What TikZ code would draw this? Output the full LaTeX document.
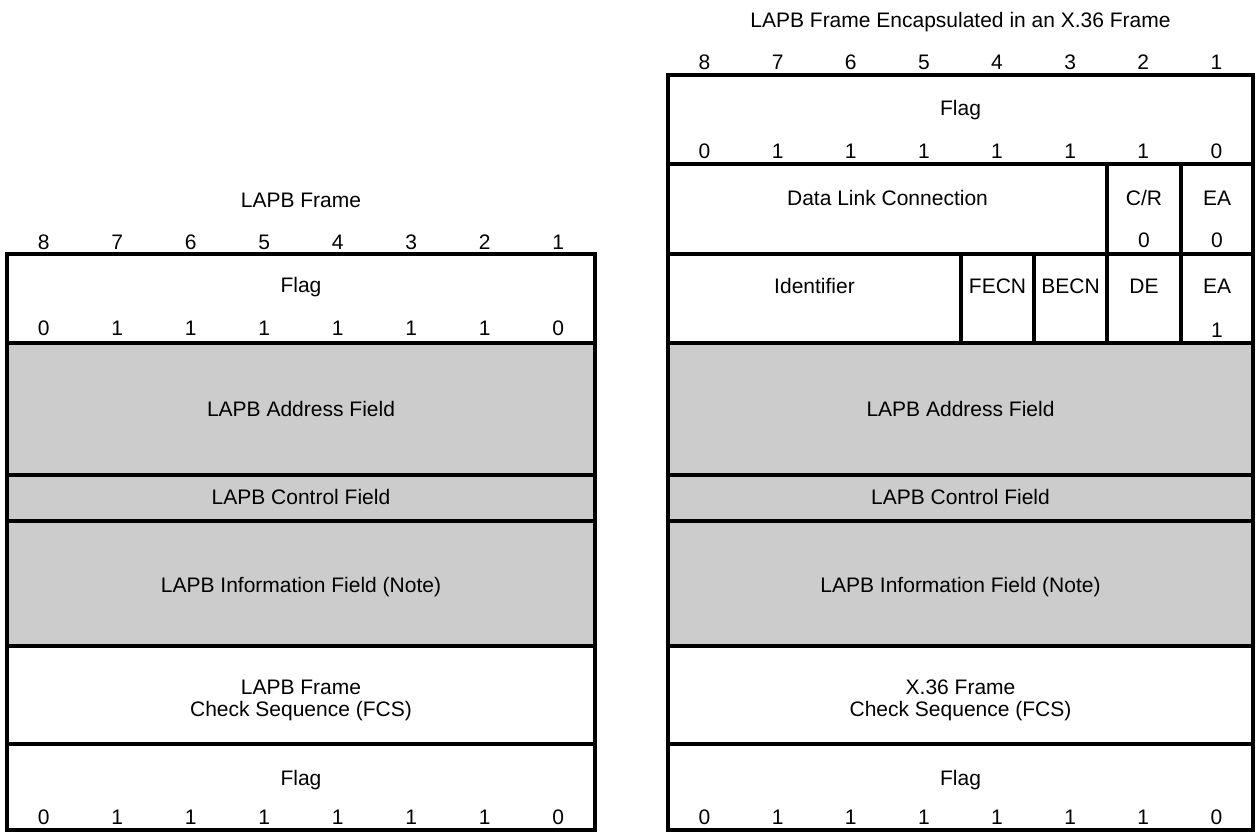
\documentclass[tikz,border=0pt]{standalone}
\usepackage{fontspec}
\setmainfont{Liberation Sans}
\begin{document}
\begin{tikzpicture}[x=0.5pt,y=-0.5pt,
  lbl/.style={font=\fontsize{10.5}{11}\selectfont, anchor=base, inner sep=0pt, align=center},
  frameline/.style={line width=1.9pt},
  shade/.style={fill=gray!40}]
\useasboundingbox (0,0) rectangle (1256,831);
% shaded LAPB fields
\fill[shade] (7,343) rectangle (595,646);
\fill[shade] (668,343) rectangle (1253,646);
% left frame
\draw[frameline] (7,254) rectangle (595,830);
\foreach \y in {343,475,521,646,744} \draw[frameline] (7,\y) -- (595,\y);
% right frame
\draw[frameline] (668,75) rectangle (1253,830);
\foreach \y in {164,254,343,475,521,646,744} \draw[frameline] (668,\y) -- (1253,\y);
\draw[frameline] (1107,164) -- (1107,343);
\draw[frameline] (1181,164) -- (1181,343);
\draw[frameline] (961,254) -- (961,343);
\draw[frameline] (1034,254) -- (1034,343);

% titles
\node[lbl] (ltitle) at (301,207.5) {LAPB Frame};
\node[lbl] (rtitle) at (960.5,27.5) {LAPB Frame Encapsulated in an X.36 Frame};

% bit numbers and flag bits
\foreach \i/\b in {1/0,2/1,3/1,4/1,5/1,6/1,7/1,8/0} {
  \pgfmathsetmacro{\lx}{7+73.5*(\i-0.5)}
  \pgfmathsetmacro{\rx}{668+73.125*(\i-0.5)}
  \pgfmathtruncatemacro{\n}{9-\i}
  \node[lbl] (lnum\i) at (\lx,249) {\n};
  \node[lbl] (rnum\i) at (\rx,69) {\n};
  \node[lbl] (lfa\i) at (\lx,335) {\b};
  \node[lbl] (lfb\i) at (\lx,824) {\b};
  \node[lbl] (rfa\i) at (\rx,158) {\b};
  \node[lbl] (rfb\i) at (\rx,824) {\b};
}

% left frame labels
\node[lbl] (lflag1) at (301,292.5) {Flag};
\node[lbl] (laddr) at (301,416.5) {LAPB Address Field};
\node[lbl] (lctrl) at (301,504.5) {LAPB Control Field};
\node[lbl] (linfo) at (301,592.5) {LAPB Information Field (Note)};
\node[lbl] (lfcs) at (301,716.5) {LAPB Frame\\Check Sequence (FCS)};
\node[lbl] (lflag2) at (301,785.5) {Flag};

% right frame labels
\node[lbl] (rflag1) at (960.5,115.5) {Flag};
\node[lbl] (dlc) at (887.5,205) {Data Link Connection};
\node[lbl] (cr) at (1144,205) {C/R};
\node[lbl] (ea1) at (1217,205) {EA};
\node[lbl] (cr0) at (1144,247) {0};
\node[lbl] (ea0) at (1217,247) {0};
\node[lbl] (ident) at (814.5,293) {Identifier};
\node[lbl] (fecn) at (997.5,293) {FECN};
\node[lbl] (becn) at (1070.5,293) {BECN};
\node[lbl] (de) at (1144,293) {DE};
\node[lbl] (ea2) at (1217,293) {EA};
\node[lbl] (ea2v) at (1217,337) {1};
\node[lbl] (raddr) at (960.5,416.5) {LAPB Address Field};
\node[lbl] (rctrl) at (960.5,504.5) {LAPB Control Field};
\node[lbl] (rinfo) at (960.5,592.5) {LAPB Information Field (Note)};
\node[lbl] (rfcs) at (960.5,716.5) {X.36 Frame\\Check Sequence (FCS)};
\node[lbl] (rflag2) at (960.5,785.5) {Flag};
\end{tikzpicture}
\end{document}
